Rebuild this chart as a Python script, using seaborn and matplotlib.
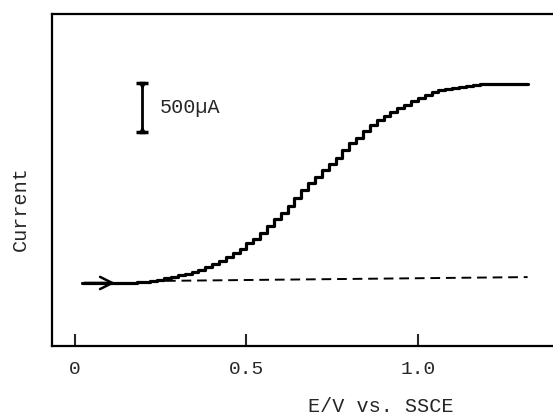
import numpy as np
import pandas as pd
import matplotlib
matplotlib.use("Agg")
import matplotlib.pyplot as plt
import seaborn as sns

# staircase voltammogram (20 mV steps)
potential = [0.02, 0.04, 0.06, 0.08, 0.10, 0.12, 0.14, 0.16, 0.18, 0.20,
             0.22, 0.24, 0.26, 0.28, 0.30, 0.32, 0.34, 0.36, 0.38, 0.40,
             0.42, 0.44, 0.46, 0.48, 0.50, 0.52, 0.54, 0.56, 0.58, 0.60,
             0.62, 0.64, 0.66, 0.68, 0.70, 0.72, 0.74, 0.76, 0.78, 0.80,
             0.82, 0.84, 0.86, 0.88, 0.90, 0.92, 0.94, 0.96, 0.98, 1.00,
             1.02, 1.04, 1.06, 1.08, 1.10, 1.12, 1.14, 1.16, 1.18, 1.20,
             1.22, 1.24, 1.26, 1.28, 1.30, 1.32]
current = [0, 0, 0, 0, 0, 0, 0, 2, 7, 15,
           23, 35, 49, 64, 77, 92, 112, 133, 160, 190,
           224, 265, 306, 350, 408, 449, 512, 581, 653, 714,
           785, 867, 949, 1022, 1081, 1157, 1214, 1275, 1352, 1428,
           1484, 1550, 1607, 1658, 1703, 1744, 1780, 1816, 1856, 1887,
           1920, 1945, 1966, 1977, 1989, 1997, 2009, 2020, 2026, 2030,
           2030, 2030, 2030, 2030, 2030, 2030]

# background (dashed)
bg_potential = [0.22, 1.32]
bg_current = [20, 60]

xticks = [0, 0.5, 1.0]
xticklabels = ["0", "0.5", "1.0"]

df = pd.DataFrame({"E": potential, "I": current})
bg = pd.DataFrame({"E": bg_potential, "I": bg_current})

sns.set_style("white")
plt.rcParams["font.family"] = ["Liberation Mono", "DejaVu Sans"]

fig = plt.figure(figsize=(5.53, 4.19), dpi=100)
ax = fig.add_axes([52/553, 73/419, 1 - 52/553, 332/419])

sns.lineplot(data=df, x="E", y="I", ax=ax, color="black", lw=2.3,
             drawstyle="steps-post")
sns.lineplot(data=bg, x="E", y="I", ax=ax, color="black", lw=1.4,
             linestyle=(0, (5, 3)))

# arrow at the start of the scan
ax.annotate("", xy=(0.125, 0), xytext=(0.02, 0),
            arrowprops=dict(arrowstyle="->", lw=1.8, color="black",
                            mutation_scale=22))

# 500 uA scale bar
ax.plot([0.195, 0.195], [1540, 2040], color="black", lw=2)
ax.plot([0.195, 0.195], [1540, 2040], ls="none", marker="_", ms=9, mew=2.5,
        color="black")
ax.plot([0.195], [2020], ls="none", marker="v", ms=5, color="black")
ax.plot([0.195], [1560], ls="none", marker="^", ms=5, color="black")
ax.text(0.247, 1790, "500\u00b5A", fontsize=14.5, va="center", ha="left",
        family=["Liberation Mono", "DejaVu Sans"])

ax.set_xlim(-0.067, 1.394)
ax.set_ylim(-643, 2744)
ax.set_xticks(xticks)
ax.set_xticklabels(xticklabels)
ax.set_yticks([])
ax.tick_params(axis="x", direction="in", length=8.5, width=1.5, pad=11,
               labelsize=14, bottom=True)
for s in ["left", "top", "bottom"]:
    ax.spines[s].set_linewidth(1.6)
    ax.spines[s].set_color("black")
ax.spines["right"].set_visible(False)

ax.set_xlabel("E/V vs. SSCE", fontsize=14.5)
ax.xaxis.set_label_coords(0.656, -0.155)
ax.set_ylabel("Current", fontsize=14.5)
ax.yaxis.set_label_coords(-0.044, 0.413)

plt.savefig("out.png", dpi=100)
